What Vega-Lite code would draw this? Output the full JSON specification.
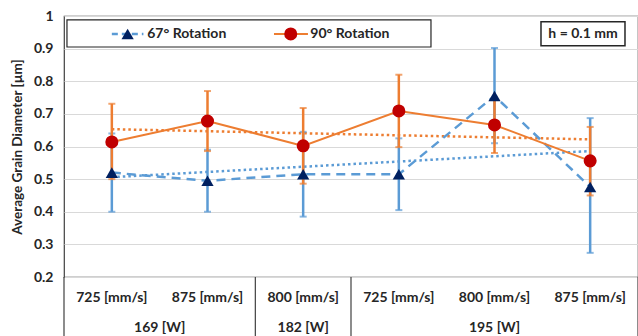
{
  "$schema": "https://vega.github.io/schema/vega-lite/v6.json",
  "width": 574,
  "height": 261,
  "autosize": {"type": "none"},
  "padding": {"left": 64, "top": 16, "right": 0, "bottom": 59},
  "background": "white",
  "config": {
    "view": {"stroke": "#404040", "strokeWidth": 1.2},
    "font": "Lato",
    "axis": {"labelFont": "Lato", "titleFont": "Lato"},
    "axisY": {"grid": true, "gridColor": "#d9d9d9", "gridWidth": 1, "domain": false, "ticks": false,
      "labelFontSize": 14, "labelFontWeight": "bold", "labelColor": "#262626", "labelPadding": 11,
      "titleFontSize": 13.5, "titleFontWeight": "bold", "titleColor": "#262626", "titlePadding": 9}
  },
  "datasets": {
    "main": [
      {"series": "67° Rotation", "power": "169 [W]", "speed": "725 [mm/s]", "idx": 1, "mean": 0.52, "lo": 0.40, "hi": 0.64},
      {"series": "67° Rotation", "power": "169 [W]", "speed": "875 [mm/s]", "idx": 2, "mean": 0.495, "lo": 0.40, "hi": 0.59},
      {"series": "67° Rotation", "power": "182 [W]", "speed": "800 [mm/s]", "idx": 3, "mean": 0.515, "lo": 0.385, "hi": 0.645},
      {"series": "67° Rotation", "power": "195 [W]", "speed": "725 [mm/s]", "idx": 4, "mean": 0.515, "lo": 0.405, "hi": 0.625},
      {"series": "67° Rotation", "power": "195 [W]", "speed": "800 [mm/s]", "idx": 5, "mean": 0.755, "lo": 0.61, "hi": 0.902},
      {"series": "67° Rotation", "power": "195 [W]", "speed": "875 [mm/s]", "idx": 6, "mean": 0.476, "lo": 0.274, "hi": 0.687},
      {"series": "90° Rotation", "power": "169 [W]", "speed": "725 [mm/s]", "idx": 1, "mean": 0.614, "lo": 0.50, "hi": 0.731},
      {"series": "90° Rotation", "power": "169 [W]", "speed": "875 [mm/s]", "idx": 2, "mean": 0.678, "lo": 0.586, "hi": 0.77},
      {"series": "90° Rotation", "power": "182 [W]", "speed": "800 [mm/s]", "idx": 3, "mean": 0.602, "lo": 0.486, "hi": 0.718},
      {"series": "90° Rotation", "power": "195 [W]", "speed": "725 [mm/s]", "idx": 4, "mean": 0.709, "lo": 0.598, "hi": 0.82},
      {"series": "90° Rotation", "power": "195 [W]", "speed": "800 [mm/s]", "idx": 5, "mean": 0.666, "lo": 0.58, "hi": 0.743},
      {"series": "90° Rotation", "power": "195 [W]", "speed": "875 [mm/s]", "idx": 6, "mean": 0.556, "lo": 0.45, "hi": 0.66}
    ],
    "groups": [
      {"power": "169 [W]", "center": 1.5},
      {"power": "182 [W]", "center": 3},
      {"power": "195 [W]", "center": 5}
    ],
    "bounds": [
      {"edge": 0.5}, {"edge": 2.5}, {"edge": 3.5}, {"edge": 6.5}
    ],
    "legend": [
      {"label": "67° Rotation", "lineStart": 1.0, "lineEnd": 1.33, "marker": 1.165, "textPos": 1.37},
      {"label": "90° Rotation", "lineStart": 2.695, "lineEnd": 3.05, "marker": 2.87, "textPos": 3.075}
    ],
    "note": [
      {"label": "h = 0.1 mm", "left": 5.486, "right": 6.364, "center": 5.925}
    ],
    "legendBox": [
      {"left": 0.531, "right": 4.336}
    ]
  },
  "resolve": {"scale": {"x": "shared", "y": "shared"}},
  "layer": [
    {
      "data": {"name": "main"},
      "transform": [{"filter": "datum.series === '67° Rotation'"}],
      "mark": {"type": "text", "fontSize": 14, "fontWeight": "bold", "color": "#262626", "font": "Lato"},
      "encoding": {
        "x": {"field": "idx", "type": "quantitative", "scale": {"domain": [0.5, 6.5], "nice": false, "zero": false}, "axis": null},
        "y": {"datum": 0.136, "type": "quantitative", "scale": {"domain": [0.2, 1], "nice": false, "zero": false},
          "axis": {"values": [0.2, 0.3, 0.4, 0.5, 0.6, 0.7, 0.8, 0.9, 1], "format": "~g", "title": "Average Grain Diameter [µm]"}},
        "text": {"field": "speed"}
      }
    },
    {
      "data": {"name": "bounds"},
      "mark": {"type": "rule", "color": "#404040", "strokeWidth": 1.2},
      "encoding": {
        "x": {"field": "edge", "type": "quantitative", "axis": null},
        "y": {"datum": 0.2, "type": "quantitative", "axis": {"values": [0.2, 0.3, 0.4, 0.5, 0.6, 0.7, 0.8, 0.9, 1], "format": "~g", "title": "Average Grain Diameter [µm]"}},
        "y2": {"datum": 0.0}
      }
    },
    {
      "data": {"name": "groups"},
      "mark": {"type": "text", "fontSize": 14, "fontWeight": "bold", "color": "#262626", "font": "Lato"},
      "encoding": {
        "x": {"field": "center", "type": "quantitative", "axis": null},
        "y": {"datum": 0.044, "type": "quantitative", "axis": {"values": [0.2, 0.3, 0.4, 0.5, 0.6, 0.7, 0.8, 0.9, 1], "format": "~g", "title": "Average Grain Diameter [µm]"}},
        "text": {"field": "power"}
      }
    },
    {
      "data": {"name": "main"},
      "transform": [
        {"regression": "mean", "on": "idx", "groupby": ["series"], "method": "linear", "extent": [1, 6]}
      ],
      "mark": {"type": "line", "strokeDash": [2.5, 3], "strokeWidth": 2.5},
      "encoding": {
        "x": {"field": "idx", "type": "quantitative", "axis": null},
        "y": {"field": "mean", "type": "quantitative", "axis": {"values": [0.2, 0.3, 0.4, 0.5, 0.6, 0.7, 0.8, 0.9, 1], "format": "~g", "title": "Average Grain Diameter [µm]"}},
        "color": {"field": "series", "type": "nominal", "scale": {"domain": ["67° Rotation", "90° Rotation"], "range": ["#5B9BD5", "#ED7D31"]}, "legend": null}
      }
    },
    {
      "data": {"name": "main"},
      "transform": [{"filter": "datum.series === '67° Rotation'"}],
      "mark": {"type": "errorbar", "ticks": {"size": 7, "thickness": 2}, "thickness": 2.5, "color": "#5B9BD5"},
      "encoding": {
        "x": {"field": "idx", "type": "quantitative", "axis": null},
        "y": {"field": "lo", "type": "quantitative", "axis": {"values": [0.2, 0.3, 0.4, 0.5, 0.6, 0.7, 0.8, 0.9, 1], "format": "~g", "title": "Average Grain Diameter [µm]"}},
        "y2": {"field": "hi"}
      }
    },
    {
      "data": {"name": "main"},
      "transform": [{"filter": "datum.series === '90° Rotation'"}],
      "mark": {"type": "errorbar", "ticks": {"size": 7, "thickness": 2}, "thickness": 2.5, "color": "#ED7D31"},
      "encoding": {
        "x": {"field": "idx", "type": "quantitative", "axis": null},
        "y": {"field": "lo", "type": "quantitative", "axis": {"values": [0.2, 0.3, 0.4, 0.5, 0.6, 0.7, 0.8, 0.9, 1], "format": "~g", "title": "Average Grain Diameter [µm]"}},
        "y2": {"field": "hi"}
      }
    },
    {
      "data": {"name": "main"},
      "transform": [{"filter": "datum.series === '67° Rotation'"}],
      "mark": {"type": "line", "color": "#5B9BD5", "strokeWidth": 2.5, "strokeDash": [9, 6]},
      "encoding": {
        "x": {"field": "idx", "type": "quantitative", "axis": null},
        "y": {"field": "mean", "type": "quantitative", "axis": {"values": [0.2, 0.3, 0.4, 0.5, 0.6, 0.7, 0.8, 0.9, 1], "format": "~g", "title": "Average Grain Diameter [µm]"}}
      }
    },
    {
      "data": {"name": "main"},
      "transform": [{"filter": "datum.series === '90° Rotation'"}],
      "mark": {"type": "line", "color": "#ED7D31", "strokeWidth": 2},
      "encoding": {
        "x": {"field": "idx", "type": "quantitative", "axis": null},
        "y": {"field": "mean", "type": "quantitative", "axis": {"values": [0.2, 0.3, 0.4, 0.5, 0.6, 0.7, 0.8, 0.9, 1], "format": "~g", "title": "Average Grain Diameter [µm]"}}
      }
    },
    {
      "data": {"name": "main"},
      "transform": [{"filter": "datum.series === '67° Rotation'"}],
      "mark": {"type": "point", "shape": "triangle-up", "filled": true, "color": "#002060", "size": 150, "opacity": 1},
      "encoding": {
        "x": {"field": "idx", "type": "quantitative", "axis": null},
        "y": {"field": "mean", "type": "quantitative", "axis": {"values": [0.2, 0.3, 0.4, 0.5, 0.6, 0.7, 0.8, 0.9, 1], "format": "~g", "title": "Average Grain Diameter [µm]"}}
      }
    },
    {
      "data": {"name": "main"},
      "transform": [{"filter": "datum.series === '90° Rotation'"}],
      "mark": {"type": "point", "shape": "circle", "filled": true, "color": "#C00000", "size": 170, "opacity": 1},
      "encoding": {
        "x": {"field": "idx", "type": "quantitative", "axis": null},
        "y": {"field": "mean", "type": "quantitative", "axis": {"values": [0.2, 0.3, 0.4, 0.5, 0.6, 0.7, 0.8, 0.9, 1], "format": "~g", "title": "Average Grain Diameter [µm]"}}
      }
    },
    {
      "data": {"name": "legendBox"},
      "mark": {"type": "rect", "fill": "white", "stroke": "#262626", "strokeWidth": 1.2},
      "encoding": {
        "x": {"field": "left", "type": "quantitative", "axis": null},
        "x2": {"field": "right"},
        "y": {"datum": 0.988, "type": "quantitative", "axis": {"values": [0.2, 0.3, 0.4, 0.5, 0.6, 0.7, 0.8, 0.9, 1], "format": "~g", "title": "Average Grain Diameter [µm]"}},
        "y2": {"datum": 0.905}
      }
    },
    {
      "data": {"name": "legend"},
      "transform": [{"filter": "datum.label === '67° Rotation'"}],
      "mark": {"type": "rule", "color": "#5B9BD5", "strokeWidth": 2.5, "strokeDash": [6, 4]},
      "encoding": {
        "x": {"field": "lineStart", "type": "quantitative", "axis": null},
        "x2": {"field": "lineEnd"},
        "y": {"datum": 0.945, "type": "quantitative", "axis": {"values": [0.2, 0.3, 0.4, 0.5, 0.6, 0.7, 0.8, 0.9, 1], "format": "~g", "title": "Average Grain Diameter [µm]"}}
      }
    },
    {
      "data": {"name": "legend"},
      "transform": [{"filter": "datum.label === '90° Rotation'"}],
      "mark": {"type": "rule", "color": "#ED7D31", "strokeWidth": 2},
      "encoding": {
        "x": {"field": "lineStart", "type": "quantitative", "axis": null},
        "x2": {"field": "lineEnd"},
        "y": {"datum": 0.945, "type": "quantitative", "axis": {"values": [0.2, 0.3, 0.4, 0.5, 0.6, 0.7, 0.8, 0.9, 1], "format": "~g", "title": "Average Grain Diameter [µm]"}}
      }
    },
    {
      "data": {"name": "legend"},
      "transform": [{"filter": "datum.label === '67° Rotation'"}],
      "mark": {"type": "point", "shape": "triangle-up", "filled": true, "color": "#002060", "size": 150, "opacity": 1},
      "encoding": {
        "x": {"field": "marker", "type": "quantitative", "axis": null},
        "y": {"datum": 0.945, "type": "quantitative", "axis": {"values": [0.2, 0.3, 0.4, 0.5, 0.6, 0.7, 0.8, 0.9, 1], "format": "~g", "title": "Average Grain Diameter [µm]"}}
      }
    },
    {
      "data": {"name": "legend"},
      "transform": [{"filter": "datum.label === '90° Rotation'"}],
      "mark": {"type": "point", "shape": "circle", "filled": true, "color": "#C00000", "size": 170, "opacity": 1},
      "encoding": {
        "x": {"field": "marker", "type": "quantitative", "axis": null},
        "y": {"datum": 0.945, "type": "quantitative", "axis": {"values": [0.2, 0.3, 0.4, 0.5, 0.6, 0.7, 0.8, 0.9, 1], "format": "~g", "title": "Average Grain Diameter [µm]"}}
      }
    },
    {
      "data": {"name": "legend"},
      "mark": {"type": "text", "align": "left", "baseline": "middle", "fontSize": 14, "fontWeight": "bold", "color": "#262626", "font": "Lato"},
      "encoding": {
        "x": {"field": "textPos", "type": "quantitative", "axis": null},
        "y": {"datum": 0.945, "type": "quantitative", "axis": {"values": [0.2, 0.3, 0.4, 0.5, 0.6, 0.7, 0.8, 0.9, 1], "format": "~g", "title": "Average Grain Diameter [µm]"}},
        "text": {"field": "label"}
      }
    },
    {
      "data": {"name": "note"},
      "mark": {"type": "rect", "fill": "white", "stroke": "#262626", "strokeWidth": 1.5},
      "encoding": {
        "x": {"field": "left", "type": "quantitative", "axis": null},
        "x2": {"field": "right"},
        "y": {"datum": 0.982, "type": "quantitative", "axis": {"values": [0.2, 0.3, 0.4, 0.5, 0.6, 0.7, 0.8, 0.9, 1], "format": "~g", "title": "Average Grain Diameter [µm]"}},
        "y2": {"datum": 0.909}
      }
    },
    {
      "data": {"name": "note"},
      "mark": {"type": "text", "align": "center", "baseline": "middle", "fontSize": 14, "fontWeight": "bold", "color": "#262626", "font": "Lato"},
      "encoding": {
        "x": {"field": "center", "type": "quantitative", "axis": null},
        "y": {"datum": 0.945, "type": "quantitative", "axis": {"values": [0.2, 0.3, 0.4, 0.5, 0.6, 0.7, 0.8, 0.9, 1], "format": "~g", "title": "Average Grain Diameter [µm]"}},
        "text": {"field": "label"}
      }
    }
  ]
}
